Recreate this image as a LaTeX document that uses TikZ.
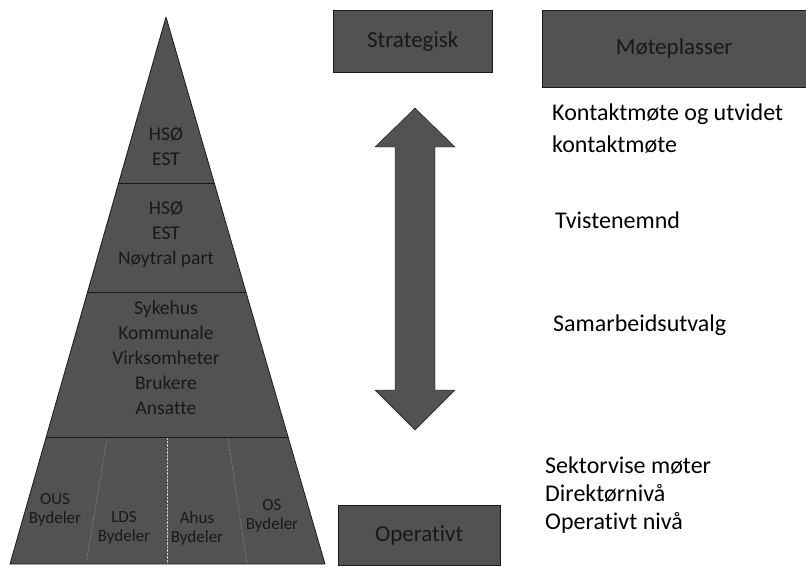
\documentclass[tikz,border=0pt]{standalone}
\usepackage{fontspec}
\setmainfont[Ligatures=CommonOff]{Carlito}
\def\pyramid{(166,17) -- (325,564) -- (10,564) -- cycle}
\def\levelarrow{(415,108) -- (455,147) -- (435,147) -- (435,390) -- (455,390)
  -- (415,430) -- (375,390) -- (395,390) -- (395,147) -- (375,147) -- cycle}
\colorlet{block edge}{black!90}
\colorlet{block area}{black!68}
\colorlet{block text}{black!90}
\tikzset{
  filled/.style={fill=block area, draw=block edge, thick},
  divider/.style={draw=block edge, thick},
  sector line/.style={draw=white!80!black, densely dotted, thin},
  level/.style={align=center, text=block text, inner sep=0pt,
    font=\fontsize{19.5}{25}\selectfont},
  sector/.style={align=center, text=block text, inner sep=0pt,
    font=\fontsize{17}{19}\selectfont},
  labelbox/.style={fill=block area, draw=block edge, thin, anchor=north west,
    text=block text, font=\fontsize{23}{26}\selectfont},
  meeting/.style={anchor=west, align=left, inner sep=0pt,
    font=\fontsize{24}{28}\selectfont}
}
\begin{document}
\begin{tikzpicture}[x=1pt, y=-1pt]
    \useasboundingbox (0,0) rectangle (806,566);
    \begin{scope}
      \clip \pyramid;
      \fill[block area] \pyramid;
      \draw[divider] (0,183) -- (330,183);
      \draw[divider] (0,292) -- (330,292);
      \draw[divider] (0,437) -- (330,437);
      \draw[sector line] (107,438) -- (86,564);
      \draw[sector line] (167,438) -- (167,564);
      \draw[sector line] (228,438) -- (247,564);
    \end{scope}
    \draw[block edge, thick, line join=round] \pyramid;
    \node[level] (hso) at (166,147) {HSØ\\EST};
    \node[level] (tvist) at (166,235) {HSØ\\EST\\Nøytral part};
    \node[level] (samarb) at (166,358) {Sykehus\\Kommunale\\Virksomheter\\Brukere\\Ansatte};
    \node[sector] (ous) at (55,510) {OUS\\Bydeler};
    \node[sector] (lds) at (124,528) {LDS\\Bydeler};
    \node[sector] (ahus) at (197,528) {Ahus\\Bydeler};
    \node[sector] (os) at (272,516) {OS\\Bydeler};
    % levels and meeting places
    \node[labelbox, minimum width=159pt, minimum height=62pt] (strategisk) at (333,10) {Strategisk};
    \node[labelbox, minimum width=264pt, minimum height=77pt] (moteplasser) at (542,10) {Møteplasser};
    \node[labelbox, minimum width=162pt, minimum height=60pt] (operativt) at (338,505) {Operativt};
    \fill[filled, thin] \levelarrow;
    \node[meeting, font=\fontsize{24}{32}\selectfont] (kontakt) at (552,129) {Kontaktmøte og utvidet\\kontaktmøte};
    \node[meeting] (tvistenemnd) at (555,220) {Tvistenemnd};
    \node[meeting] (samarbeid) at (553,325) {Samarbeidsutvalg};
    \node[meeting] (sektor) at (545,495) {Sektorvise møter\\Direktørnivå\\Operativt nivå};
\end{tikzpicture}
\end{document}
